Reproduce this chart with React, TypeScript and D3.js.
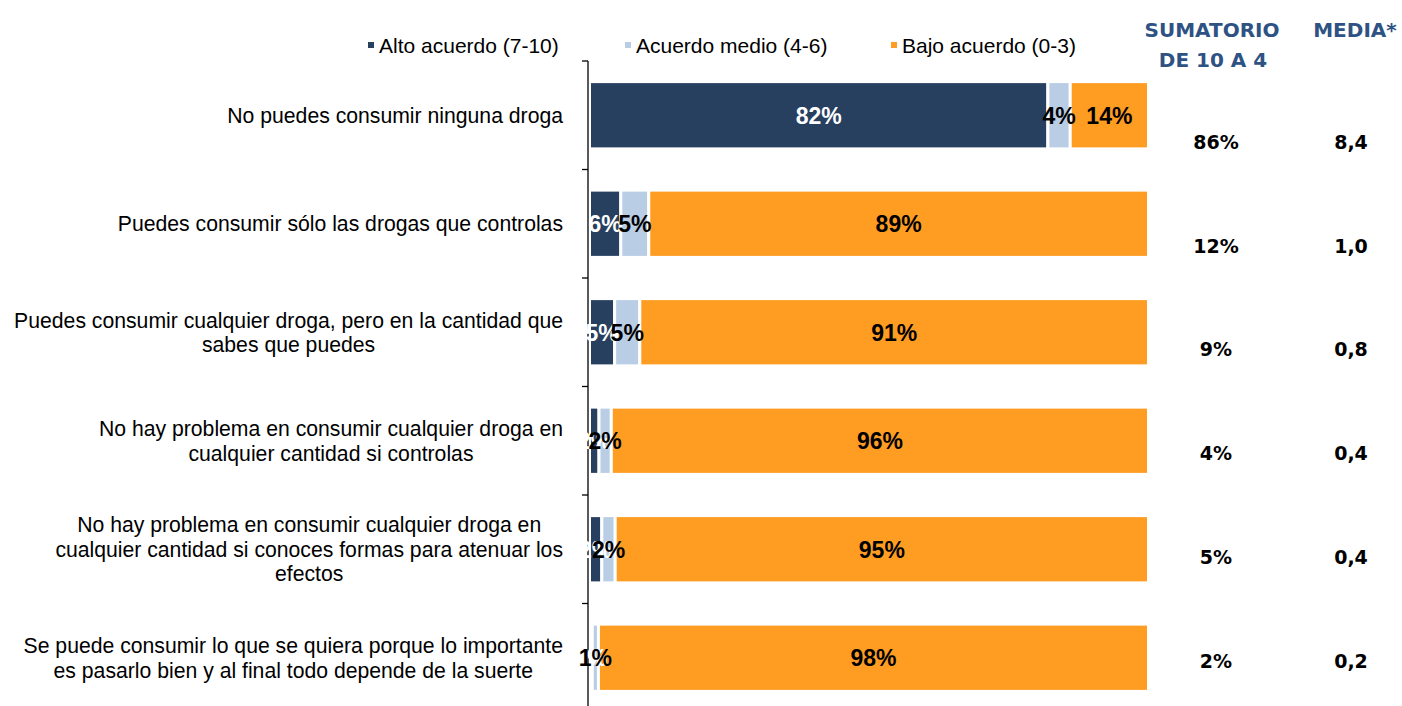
import React, { useEffect, useRef } from "react";
import * as d3 from "d3";

const categories = [
  "No puedes consumir ninguna droga",
  "Puedes consumir sólo las drogas que controlas",
  "Puedes consumir cualquier droga, pero en la cantidad que sabes que puedes",
  "No hay problema en consumir cualquier droga en cualquier cantidad si controlas",
  "No hay problema en consumir cualquier droga en cualquier cantidad si conoces formas para atenuar los efectos",
  "Se puede consumir lo que se quiera porque lo importante es pasarlo bien y al final todo depende de la suerte",
];
const categoryLines = [
  ["No puedes consumir ninguna droga"],
  ["Puedes consumir sólo las drogas que controlas"],
  ["Puedes consumir cualquier droga, pero en la cantidad que", "sabes que puedes"],
  ["No hay problema en consumir cualquier droga en", "cualquier cantidad si controlas"],
  ["No hay problema en consumir cualquier droga en", "cualquier cantidad si conoces formas para atenuar los", "efectos"],
  ["Se puede consumir lo que se quiera porque lo importante", "es pasarlo bien y al final todo depende de la suerte"],
];
const seriesNames = ["Alto acuerdo (7-10)", "Acuerdo medio (4-6)", "Bajo acuerdo (0-3)"];
const altoValues = [82, 5.6, 4.5, 1.7, 2.2, 0.5];
const medioValues = [4, 5, 4.5, 2.2, 2.4, 1.1];
const bajoValues = [14, 89.4, 91, 96.1, 95.4, 98.4];
const sumatorioValues = [86, 12, 9, 4, 5, 2];
const mediaValues = [8.4, 1.0, 0.8, 0.4, 0.4, 0.2];
const colors = ["#27405F", "#B9CDE5", "#FF9C22"];
const labelColors = ["#FFFFFF", "#000000", "#000000"];

export default function App() {
  const ref = useRef<SVGSVGElement | null>(null);

  useEffect(() => {
    const svg = d3.select(ref.current);
    svg.selectAll("*").remove();

    const y = d3.scaleBand<string>().domain(categories).range([61, 712]).paddingInner(0.38).paddingOuter(0.19);
    const x = d3.scaleLinear().domain([0, 100]).range([589.5, 1148.5]);
    const rowY = d3.scalePoint<string>().domain(categories).range([142, 661]);

    const series = [altoValues, medioValues, bajoValues];

    // bars
    const gBars = svg.append("g");
    series.forEach((vals, si) => {
      gBars
        .selectAll(null)
        .data(categories)
        .enter()
        .append("rect")
        .attr("x", (_, i) => {
          let s = 0;
          for (let k = 0; k < si; k++) s += series[k][i];
          return x(s);
        })
        .attr("y", (c) => y(c)!)
        .attr("width", (_, i) => x(vals[i]) - x(0))
        .attr("height", y.bandwidth())
        .attr("fill", colors[si])
        .attr("stroke", "#FFFFFF")
        .attr("stroke-width", 3);
    });

    // axis
    const step = y.step();
    const axis = svg.append("g").attr("stroke", "#000").attr("stroke-width", 1.3);
    axis.append("line").attr("x1", 588).attr("x2", 588).attr("y1", 61).attr("y2", 712);
    const boundaries = d3.range(categories.length + 1).map((i) => 61 + i * step);
    axis
      .selectAll(null)
      .data(boundaries)
      .enter()
      .append("line")
      .attr("x1", 582)
      .attr("x2", 588)
      .attr("y1", (d) => d)
      .attr("y2", (d) => d);

    // bar labels
    const gLab = svg.append("g").attr("font-family", "'Liberation Sans', Arial, sans-serif").attr("font-weight", "bold").attr("font-size", 23);
    series.forEach((vals, si) => {
      gLab
        .selectAll(null)
        .data(categories)
        .enter()
        .append("text")
        .attr("x", (_, i) => {
          let s = 0;
          for (let k = 0; k < si; k++) s += series[k][i];
          return x(s + vals[i] / 2);
        })
        .attr("y", (c) => y(c)! + y.bandwidth() / 2)
        .attr("dy", "0.36em")
        .attr("text-anchor", "middle")
        .attr("fill", labelColors[si])
        .text((_, i) => `${Math.round(vals[i])}%`);
    });

    // category labels
    const gCat = svg.append("g").attr("font-family", "'Liberation Sans', Arial, sans-serif").attr("font-size", 21.2).attr("fill", "#000");
    categories.forEach((c, i) => {
      const lines = categoryLines[i];
      const lh = 24.5;
      const cy = y(c)! + y.bandwidth() / 2;
      const texts = lines.map((ln, j) =>
        gCat
          .append("text")
          .attr("y", cy + (j - (lines.length - 1) / 2) * lh)
          .attr("dy", "0.36em")
          .attr("text-anchor", "middle")
          .text(ln)
      );
      const maxW = d3.max(texts, (t) => (t.node() as SVGTextElement).getComputedTextLength()) || 0;
      const cx = 563 - maxW / 2;
      texts.forEach((t) => t.attr("x", cx));
    });

    // legend
    const legendX = [368, 625, 891];
    const gLeg = svg.append("g").attr("font-family", "'Liberation Sans', Arial, sans-serif").attr("font-size", 21);
    seriesNames.forEach((n, i) => {
      gLeg.append("rect").attr("x", legendX[i]).attr("y", 42).attr("width", 6).attr("height", 6).attr("fill", colors[i]);
      gLeg.append("text").attr("x", legendX[i] + 11).attr("y", 45).attr("dy", "0.36em").attr("fill", "#000").text(n);
    });

    // headers
    const gHead = svg.append("g").attr("font-family", "'DejaVu Sans', sans-serif").attr("font-weight", "bold").attr("font-size", 20).attr("fill", "#2E5283").attr("text-anchor", "middle");
    gHead.append("text").attr("x", 1212).attr("y", 30).attr("dy", "0.36em").text("SUMATORIO");
    gHead.append("text").attr("x", 1213).attr("y", 60).attr("dy", "0.36em").text("DE 10 A 4");
    gHead.append("text").attr("x", 1355).attr("y", 30).attr("dy", "0.36em").text("MEDIA*");

    // table values
    const gVal = svg.append("g").attr("font-family", "'DejaVu Sans', sans-serif").attr("font-weight", "bold").attr("font-size", 19).attr("fill", "#000").attr("text-anchor", "middle");
    const fmtMedia = (v: number) => d3.format(".1f")(v).replace(".", ",");
    gVal
      .selectAll(null)
      .data(categories)
      .enter()
      .append("text")
      .attr("x", 1216)
      .attr("y", (c) => rowY(c)!)
      .attr("dy", "0.36em")
      .text((_, i) => `${sumatorioValues[i]}%`);
    gVal
      .selectAll(null)
      .data(categories)
      .enter()
      .append("text")
      .attr("x", 1351)
      .attr("y", (c) => rowY(c)!)
      .attr("dy", "0.36em")
      .text((_, i) => fmtMedia(mediaValues[i]));
  }, []);

  return (
    <svg
      ref={ref}
      width={1402}
      height={706}
      style={{ position: "absolute", left: 0, top: 0, background: "#fff", display: "block" }}
    />
  );
}
